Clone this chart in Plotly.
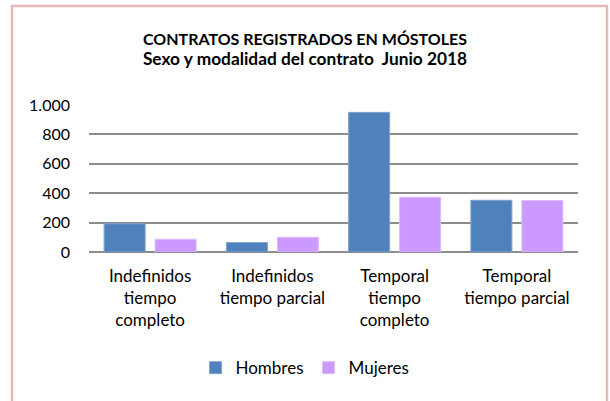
import plotly.graph_objects as go

categories = ["Indefinidos<br>tiempo<br>completo", "Indefinidos<br>tiempo parcial",
              "Temporal<br>tiempo<br>completo", "Temporal<br>tiempo parcial"]
hombres = [192, 64, 950, 352]
mujeres = [87, 100, 373, 350]
y_ticks = [0, 200, 400, 600, 800, 1000]
y_ticklabels = ["0", "200", "400", "600", "800", "1.000"]

FONT = "Lato"

fig = go.Figure()
fig.add_trace(go.Bar(name="Hombres", x=categories, y=hombres,
                     marker=dict(color="#4F81BD", line=dict(color="#7FA3D0", width=1))))
fig.add_trace(go.Bar(name="Mujeres", x=categories, y=mujeres,
                     marker=dict(color="#CC99FF", line=dict(color="#DDBBFF", width=1))))

fig.update_layout(
    width=610, height=401,
    margin=dict(l=89, r=32, t=105, b=149, autoexpand=False),
    paper_bgcolor="white", plot_bgcolor="white",
    font=dict(family=FONT, size=16, color="#000000"),
    barmode="group", bargap=0.166, bargroupgap=0.196,
    title=dict(text="<b>CONTRATOS REGISTRADOS EN MÓSTOLES<br>"
                    "<span style='font-size:17.3px'>Sexo y modalidad del contrato&nbsp; Junio 2018</span></b>",
               x=0.5, xref="container", xanchor="center",
               y=0.889, yref="container", yanchor="middle",
               font=dict(family=FONT, size=16, color="#000000")),
    legend=dict(orientation="h", x=0.5, xref="container", xanchor="center",
                y=0.082, yref="container", yanchor="middle",
                font=dict(family=FONT, size=17), traceorder="normal"),
    showlegend=True,
    shapes=[dict(type="rect", xref="paper", yref="paper",
                 x0=(12 - 89) / 489, x1=(607 - 89) / 489,
                 y0=(401 - 149 - 410) / 147, y1=(401 - 149 - 6) / 147,
                 line=dict(color="#E8B7B7", width=2.5), layer="below")],
)
fig.update_xaxes(showgrid=False, showline=False, ticks="",
                 tickfont=dict(family=FONT, size=17), ticklabelstandoff=12)
fig.update_yaxes(range=[0, 1000], tickvals=y_ticks, ticktext=y_ticklabels,
                 showgrid=True, gridcolor="#8C8C8C", gridwidth=2,
                 zeroline=True, zerolinecolor="#8C8C8C", zerolinewidth=2,
                 showline=False, ticks="", ticklabelstandoff=18,
                 tickfont=dict(family=FONT, size=16))

fig.write_html("out.html", config={"displayModeBar": False},
               post_script="document.body.style.margin='0px';document.body.style.overflow='hidden';")
